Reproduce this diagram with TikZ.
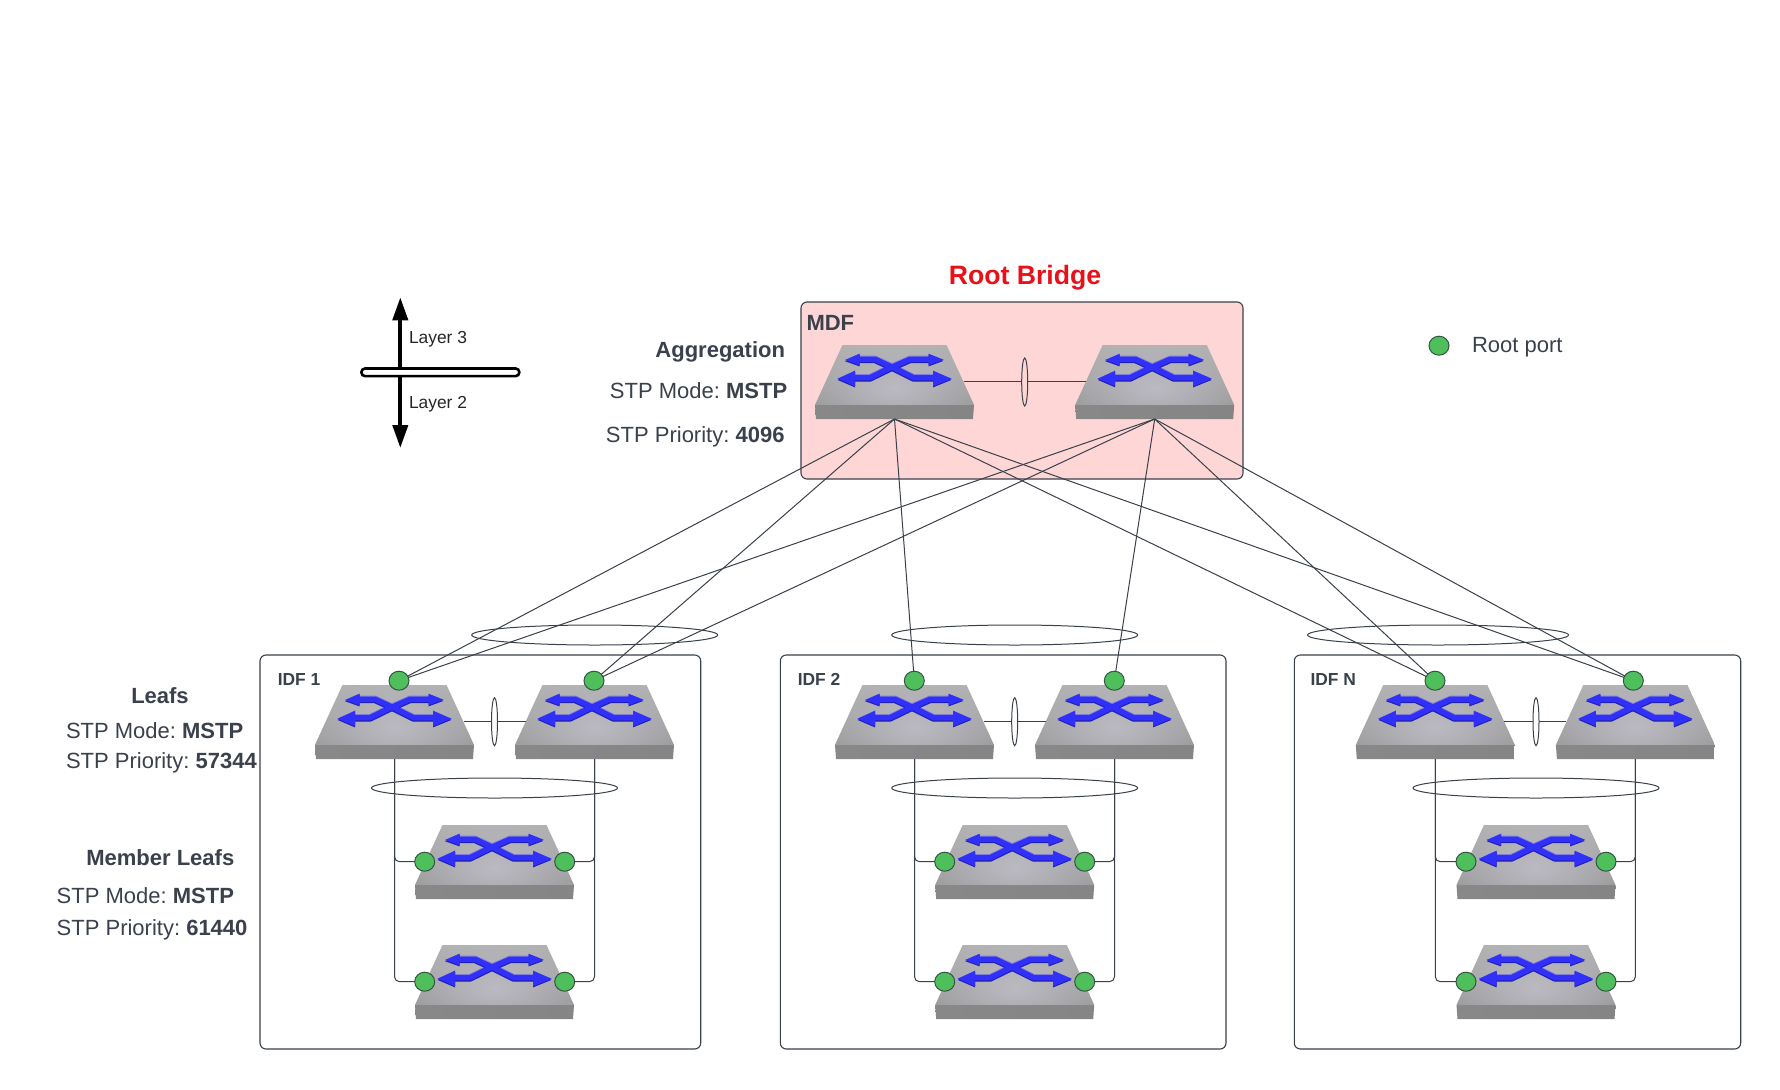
\documentclass[tikz,border=0pt]{standalone}
\usepackage{fontspec}
\setmainfont{Liberation Sans}
\usetikzlibrary{shapes.geometric,fadings,arrows.meta}
\AtBeginDocument{\frenchspacing}
\definecolor{ink}{HTML}{3A414C}
\definecolor{rootgreen}{HTML}{4FBF5C}
\definecolor{mdfpink}{HTML}{FFD6D6}
\definecolor{rootred}{HTML}{E8111A}
\definecolor{swblue}{HTML}{3030FA}
\definecolor{swshadow}{HTML}{2020B0}
\definecolor{swhalo}{HTML}{8080D8}
\definecolor{swtopa}{HTML}{B0B0B0}
\definecolor{swtopb}{HTML}{949494}
\definecolor{swglowc}{HTML}{BBBAC2}
\definecolor{swfa}{HTML}{888888}
\definecolor{swfb}{HTML}{787878}
\definecolor{swfc}{HTML}{858585}
\tikzfading[name=swglow, inner color=transparent!0, outer color=transparent!100]
\newcommand\arrowset[3]{% colour, width, offset
  \begin{scope}[yshift=#3]
  \draw[#1,line width=#2,line join=round] (-40,32)--(-24.5,32)--(-5,22.5)--(15.5,13.5)--(35,13.5);
  \draw[#1,line width=#2,line join=round] (-36,13.5)--(-19.5,13.5)--(0,22.5)--(19,32)--(39,32);
  \fill[#1] (-57,33)--(-39.5,25)--(-39.5,40.5)--cycle;
  \fill[#1] (57,33)--(38.5,25)--(38.5,40.5)--cycle;
  \fill[#1] (-49.5,14.3)--(-35,8)--(-35,19.5)--cycle;
  \fill[#1] (49,14)--(34,8)--(34,19.5)--cycle;
  \end{scope}}
\tikzset{
  x=1bp,y=-1bp,
  every node/.style={inner sep=0pt,outer sep=0pt},
  body/.style={text=ink,font=\fontsize{22bp}{26bp}\selectfont},
  small/.style={text=ink,font=\fontsize{17.4bp}{21bp}\selectfont},
  area/.style={draw=ink,line width=1.1bp,rounded corners=6bp},
  cable/.style={draw=ink,line width=1bp},
  lag/.style={shape=ellipse,draw=ink,line width=1bp},
  port/.style={shape=ellipse,draw=ink!90!green,line width=1bp,fill=rootgreen,minimum width=20bp,minimum height=19bp},
  switch/.pic={
    \shade[top color=swtopa,bottom color=swtopb] (-52,0)--(52,0)--(79.5,60)--(-79.5,60)--cycle;
    \begin{scope}
      \clip (-52,0)--(52,0)--(79.5,60)--(-79.5,60)--cycle;
      \fill[swglowc,path fading=swglow] (-110,-20) rectangle (110,105);
    \end{scope}
    \shade[left color=swfa,middle color=swfb,right color=swfc] (-79.5,60)--(79.5,60)--(78.5,74)--(-78.5,74)--cycle;
    \arrowset{swhalo}{7.2bp}{-0.7bp}
    \arrowset{swshadow}{5.6bp}{-1.9bp}
    \arrowset{swblue}{5.4bp}{-0.7bp}
    \coordinate (-bot) at (0,74);
    \coordinate (-east) at (69,36.5);
    \coordinate (-west) at (-69,36.5);
  }
}
\newcommand\idfgroup[8]{%
  \pic (#1L) at (#2,685) {switch};
  \pic (#1R) at (#3,685) {switch};
  \pic (#1A) at (#4,825) {switch};
  \pic (#1B) at (#4,945) {switch};
  \node[port] (p#1L) at (#5,680.7) {};
  \node[port] (p#1R) at (#6,680.7) {};
  \node[port] (p#1AL) at (#7,861.7) {};
  \node[port] (p#1AR) at (#8,861.7) {};
  \node[port] (p#1BL) at (#7,981.7) {};
  \node[port] (p#1BR) at (#8,981.7) {};
  \draw[cable] (#1L-east) -- (#1R-west);
  \draw[cable,rounded corners=5bp] (#1L-bot) |- (p#1AL);
  \draw[cable,rounded corners=5bp] (#1L-bot) |- (p#1BL);
  \draw[cable,rounded corners=5bp] (#1R-bot) |- (p#1AR);
  \draw[cable,rounded corners=5bp] (#1R-bot) |- (p#1BR);
  \node[lag,fill=white,minimum width=6bp,minimum height=48bp] (k#1) at (#4,721.7) {};
  \node[lag,minimum width=246bp,minimum height=20bp] (m#1) at (#4,788) {};
}
\begin{document}
\begin{tikzpicture}
\useasboundingbox (0,0) rectangle (1780,1089);
\fill[white] (0,0) rectangle (1780,1089);
% areas
\node[area,fill=mdfpink,minimum width=442bp,minimum height=177bp] (mdf) at (1022,390.5) {};
\node[area,minimum width=440.7bp,minimum height=394bp] (idfa) at (480.35,852) {};
\node[area,minimum width=445.7bp,minimum height=394bp] (idfb) at (1003.15,852) {};
\node[area,minimum width=446.4bp,minimum height=394bp] (idfn) at (1517.5,852) {};
% area labels
\node[body,text=rootred,font=\fontsize{26.6bp}{30bp}\selectfont\bfseries,anchor=base] (rb) at (1025,284) {Root Bridge};
\node[body,font=\fontsize{22bp}{26bp}\selectfont\bfseries,anchor=base west] (mdft) at (806.5,330) {MDF};
\node[small,font=\fontsize{17.4bp}{21bp}\selectfont\bfseries,anchor=base west] (ta) at (277.8,685) {IDF 1};
\node[small,font=\fontsize{17.4bp}{21bp}\selectfont\bfseries,anchor=base west] (tb) at (797.8,685) {IDF 2};
\node[small,font=\fontsize{17.4bp}{21bp}\selectfont\bfseries,anchor=base west] (tn) at (1310.5,685) {IDF N};
% side texts
\node[body,font=\fontsize{22bp}{26bp}\selectfont\bfseries,anchor=base east] (agg) at (785,357.3) {Aggregation};
\node[body,anchor=base east] (agg1) at (787.2,398.3) {STP Mode: \textbf{MSTP}};
\node[body,anchor=base east] (agg2) at (784.5,442.7) {STP Priority: \textbf{4096}};
\node[body,font=\fontsize{22bp}{26bp}\selectfont\bfseries,anchor=base] (lf) at (160,703.3) {Leafs};
\node[body,anchor=base west] (lf1) at (66,738.3) {STP Mode: \textbf{MSTP}};
\node[body,anchor=base west] (lf2) at (66,768.3) {STP Priority: \textbf{57344}};
\node[body,font=\fontsize{22bp}{26bp}\selectfont\bfseries,anchor=base] (ml) at (160.3,865) {Member Leafs};
\node[body,anchor=base west] (ml1) at (56.7,903.3) {STP Mode: \textbf{MSTP}};
\node[body,anchor=base west] (ml2) at (56.7,935.7) {STP Priority: \textbf{61440}};
% legend
\node[port] (legend) at (1439,345.7) {};
\node[body,anchor=base west] (legendt) at (1472,352.3) {Root port};
% layer marker
\coordinate (l3) at (400.3,297.3);
\coordinate (l2) at (400.3,448);
\node[draw=black,line width=2.6bp,fill=white,rounded corners=3.7bp,minimum width=158bp,minimum height=7.6bp] (bar) at (440.35,372.3) {};
\draw[black,line width=4bp,-{Triangle[length=23bp,width=15bp]}] (bar.north -| l3) -- (l3);
\draw[black,line width=4bp,-{Triangle[length=23bp,width=15bp]}] (bar.south -| l3) -- (l2);
\node[small,text=black!85,anchor=base west] (t3) at (409,343.3) {Layer 3};
\node[small,text=black!85,anchor=base west] (t2) at (409,408.3) {Layer 2};
% aggregation switches
\pic (agga) at (894.5,345) {switch};
\pic (aggb) at (1154.7,345) {switch};
\draw[cable] (agga-east) -- (aggb-west);
\node[lag,fill=mdfpink,minimum width=6bp,minimum height=48bp] (kagg) at (1024.7,382) {};
% idf groups
\idfgroup{a}{394.5}{594.5}{494.5}{399}{594}{424.7}{564.7}
\idfgroup{b}{914.5}{1114.5}{1014.7}{914.3}{1114.3}{944.7}{1084.7}
\idfgroup{n}{1435.3}{1635.4}{1536}{1435}{1633.3}{1466}{1606}
% uplinks
\foreach \s/\d in {agga/paL,agga/paR,agga/pbL,agga/pnL,agga/pnR,aggb/paL,aggb/paR,aggb/pbR,aggb/pnL,aggb/pnR}
  \draw[cable] (\s-bot) -- (\d);
\node[lag,minimum width=246bp,minimum height=20bp] (ua) at (594.7,635) {};
\node[lag,minimum width=246bp,minimum height=20bp] (ub) at (1014.7,635) {};
\node[lag,minimum width=261bp,minimum height=20bp] (un) at (1438,635) {};
\end{tikzpicture}
\end{document}
